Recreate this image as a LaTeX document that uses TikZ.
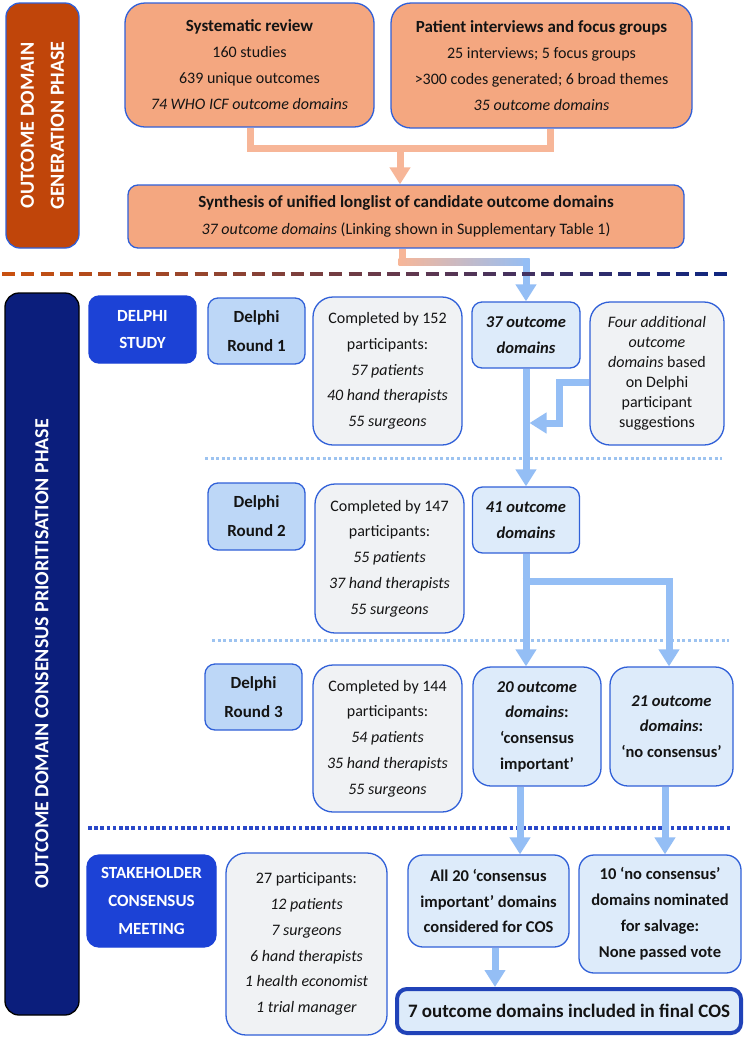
\documentclass[tikz,border=0pt]{standalone}
\usepackage{fontspec}
\setmainfont{Carlito}
\usetikzlibrary{arrows.meta,calc}
\definecolor{barorange}{HTML}{C0450A}
\definecolor{boxorange}{HTML}{F4A780}
\definecolor{conorange}{HTML}{F7B698}
\definecolor{navybar}{HTML}{0B1E7C}
\definecolor{royal}{HTML}{1C42D6}
\definecolor{roundblue}{HTML}{BDD7F7}
\definecolor{outblue}{HTML}{DDEBFA}
\definecolor{greybox}{HTML}{F0F2F4}
\definecolor{bord}{HTML}{3060D8}
\definecolor{finalbord}{HTML}{2042B8}
\definecolor{arrblue}{HTML}{94BEF5}
\definecolor{dotlight}{HTML}{9DC3F0}
\definecolor{dotdark}{HTML}{2A48C8}
\definecolor{dashA}{HTML}{C8500F}
\definecolor{dashB}{HTML}{10267F}
\definecolor{txt}{HTML}{141414}
\newcommand\mytitle{\fontsize{17}{26}\selectfont\bfseries}
\tikzset{
  bx/.style={draw=bord, line width=1.3pt, rounded corners=#1, align=center, inner sep=0pt, text=txt},
  bx/.default=10pt,
  sz/.style 2 args={minimum width=#1pt, minimum height=#2pt},
  ls/.style={font=\fontsize{16}{#1}\selectfont},
  lsb/.style={font=\fontsize{17}{#1}\selectfont\bfseries},
  oline/.style={draw=conorange, line width=7pt},
  oarr/.style={draw=conorange, line width=7pt, -{Triangle[width=20pt,length=17pt]}},
  bline/.style={draw=arrblue, line width=7pt},
  barr/.style={draw=arrblue, line width=7pt, -{Triangle[width=20pt,length=17pt]}}
}
\begin{document}
\begin{tikzpicture}[x=1pt,y=-1pt]
\useasboundingbox (0,0) rectangle (744,1037);
\fill[white] (0,0) rectangle (744,1037);

% phase bars
\node[bx=14pt, fill=barorange, rotate=90, sz={245}{73}, text=white,
      font=\fontsize{20}{30}\selectfont\bfseries] (genbar) at (42.5,125.5)
      {OUTCOME DOMAIN\\GENERATION PHASE};
\node[bx=14pt, draw=black, fill=navybar, rotate=90, sz={722}{74}, text=white,
      font=\fontsize{20}{30}\selectfont\bfseries] (conbar) at (42,654)
      {OUTCOME DOMAIN CONSENSUS PRIORITISATION PHASE};

% generation phase
\node[bx=20pt, fill=boxorange, sz={249}{124}, ls=26] (sys) at (249.5,65)
  {{\mytitle Systematic review}\\160 studies\\639 unique outcomes\\\textit{74 WHO ICF outcome domains}};
\node[bx=20pt, fill=boxorange, sz={301}{125}, ls=26] (pat) at (541.5,65.5)
  {{\mytitle Patient interviews and focus groups}\\25 interviews; 5 focus groups\\>300 codes generated; 6 broad themes\\\textit{35 outcome domains}};
\node[bx=10pt, fill=boxorange, sz={556}{63}, ls=27] (syn) at (406,216.5)
  {{\mytitle Synthesis of unified longlist of candidate outcome domains}\\\textit{37 outcome domains} (Linking shown in Supplementary Table 1)};

% Delphi study
\node[bx=10pt, draw=royal, fill=royal, sz={107}{67}, lsb=27, text=white] (dstudy) at (142.5,329.5) {DELPHI\\STUDY};

\node[bx=10pt, fill=roundblue, sz={97}{66}, lsb=29] (r1) at (256.5,331) {Delphi\\Round 1};
\node[bx=10pt, fill=roundblue, sz={97}{67}, lsb=29] (r2) at (256.5,516.5) {Delphi\\Round 2};
\node[bx=10pt, fill=roundblue, sz={97}{66}, lsb=29] (r3) at (253.5,697) {Delphi\\Round 3};

\node[bx=20pt, fill=greybox, sz={149}{148}, ls=25.7] (c1) at (387.5,371)
  {Completed by 152\\participants:\\\textit{57 patients}\\\textit{40 hand therapists}\\\textit{55 surgeons}};
\node[bx=20pt, fill=greybox, sz={149}{149}, ls=25.7] (c2) at (389.5,558.5)
  {Completed by 147\\participants:\\\textit{55 patients}\\\textit{37 hand therapists}\\\textit{55 surgeons}};
\node[bx=20pt, fill=greybox, sz={149}{147}, ls=25.7] (c3) at (387.5,738.5)
  {Completed by 144\\participants:\\\textit{54 patients}\\\textit{35 hand therapists}\\\textit{55 surgeons}};

\node[bx=10pt, fill=outblue, sz={108}{66}, font=\fontsize{16.5}{26}\selectfont\bfseries\itshape] (o37) at (526,335) {37 outcome\\domains};
\node[bx=20pt, fill=greybox, sz={134}{143}, ls=20] (four) at (657,373.5)
  {\textit{Four additional}\\\textit{outcome}\\\textit{domains} based\\on Delphi\\participant\\suggestions};
\node[bx=10pt, fill=outblue, sz={107}{66}, font=\fontsize{16.5}{26}\selectfont\bfseries\itshape] (o41) at (526,520) {41 outcome\\domains};
\node[bx=18pt, fill=outblue, sz={128}{119}, font=\fontsize{16.5}{25.7}\selectfont\bfseries] (o20) at (537,726.5)
  {\textit{20 outcome}\\\textit{domains}:\\‘consensus\\important’};
\node[bx=18pt, fill=outblue, sz={123}{119}, font=\fontsize{16.5}{25.7}\selectfont\bfseries] (o21) at (671.5,726.5)
  {\textit{21 outcome}\\\textit{domains}:\\‘no consensus’};

% dotted separators
\draw[dotlight, line width=3pt, dash pattern=on 3pt off 2.6pt] (205,458) -- (722,458);
\draw[dotlight, line width=3pt, dash pattern=on 3pt off 2.6pt] (212,640) -- (729,640);
\draw[dotdark, line width=3.6pt, dash pattern=on 3.6pt off 2.6pt] (88,828) -- (730,828);

% stakeholder meeting
\node[bx=12pt, draw=royal, fill=royal, sz={129}{92}, lsb=28, text=white] (stake) at (151.5,901) {STAKEHOLDER\\CONSENSUS\\MEETING};
\node[bx=20pt, fill=greybox, sz={161}{182}, ls=25.8] (p27) at (306.5,944)
  {27 participants:\\\textit{12 patients}\\\textit{7 surgeons}\\\textit{6 hand therapists}\\\textit{1 health economist}\\\textit{1 trial manager}};
\node[bx=15pt, fill=outblue, sz={161}{92}, font=\fontsize{16.5}{25.7}\selectfont\bfseries] (all20) at (488.5,901)
  {All 20 ‘consensus\\important’ domains\\considered for COS};
\node[bx=15pt, fill=outblue, sz={162}{118}, font=\fontsize{16.5}{26}\selectfont\bfseries] (no10) at (660,914)
  {10 ‘no consensus’\\domains nominated\\for salvage:\\None passed vote};
\node[bx=10pt, draw=finalbord, line width=4pt, fill=outblue, sz={344}{44}, font=\fontsize{19}{24}\selectfont\bfseries] (final) at (569,1011)
  {7 outcome domains included in final COS};

% connectors: generation phase
\coordinate (t1) at (250,148);
\coordinate (t2) at (550,148);
\coordinate (t3) at (400,148);
\draw[oline] (sys.south -| t1) -- (t1) -- (t2) -- (pat.south -| t2);
\draw[oarr] (t3) -- (syn.north -| t3);

\coordinate (g1) at (402,262);
\coordinate (g2) at (526,262);
\draw[oline] (syn.south -| g1) -- ($(g1)+(0,3.5)$);
\shade[left color=conorange, right color=arrblue] ($(g1)+(-3.5,-3.5)$) rectangle ($(g2)+(3.5,3.5)$);
\draw[barr] ($(g2)+(0,-3.5)$) -- (o37.north);

% separator dashed gradient line (drawn over the connector)
\foreach \i in {0,...,37}{
  \pgfmathsetmacro\p{100-\i*100/37}
  \draw[line width=4.5pt, color=dashA!\p!dashB] ({2+\i*19.25},274) -- ({15+\i*19.25},274);
}

% Delphi connectors
\draw[barr] (o37.south) -- (o41.north);
\coordinate (f1) at (559,382);
\coordinate (f2) at (559,423);
\coordinate (f3) at (529.5,423);
\draw[barr] (four.west |- f1) -- (f1) -- (f2) -- (f3);

\coordinate (b1) at (526,581);
\coordinate (b2) at (669,581);
\draw[barr] (o41.south) -- (o41.south |- o20.north);
\draw[barr] ($(b1)+(-3.5,0)$) -- (b2) -- (b2 |- o21.north);

\coordinate (a1) at (520,800);
\coordinate (a2) at (665,800);
\coordinate (a3) at (495,960);
\draw[barr] (o20.south -| a1) -- (all20.north -| a1);
\draw[barr] (o21.south -| a2) -- (no10.north -| a2);
\draw[barr] (all20.south -| a3) -- (final.north -| a3);
\end{tikzpicture}
\end{document}
